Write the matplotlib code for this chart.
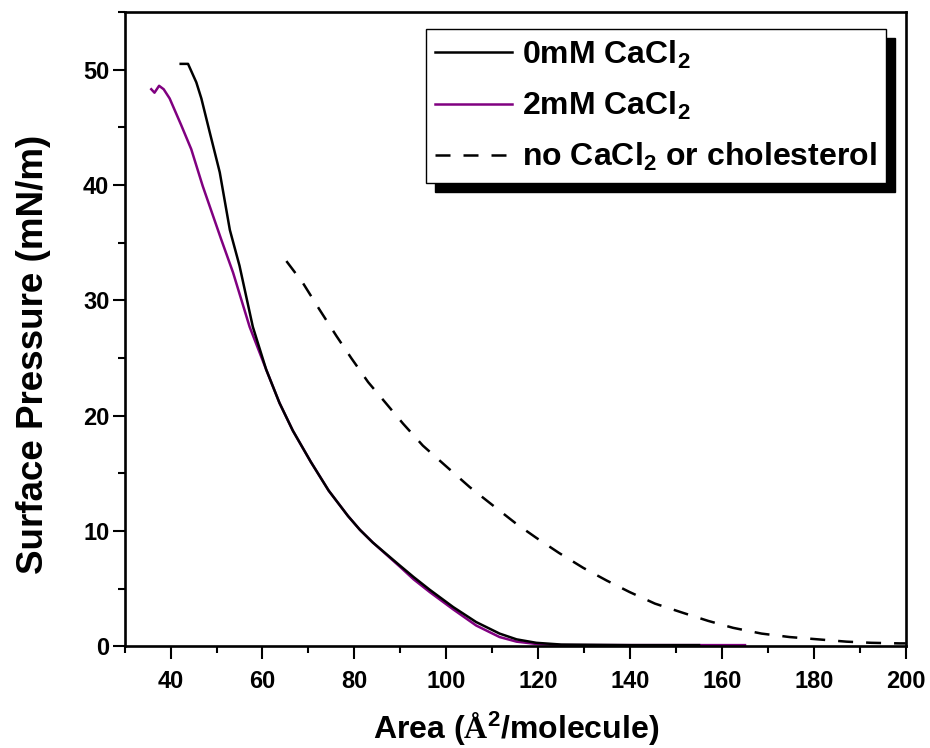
import matplotlib
matplotlib.use("Agg")
import matplotlib.pyplot as plt
from matplotlib.ticker import MultipleLocator

plt.rcParams['font.family'] = ['Liberation Sans', 'DejaVu Sans']
plt.rcParams['font.weight'] = 'bold'
plt.rcParams['mathtext.fontset'] = 'custom'
plt.rcParams['mathtext.rm'] = 'Liberation Sans:bold'
plt.rcParams['mathtext.bf'] = 'Liberation Sans:bold'
plt.rcParams['mathtext.it'] = 'Liberation Sans:bold'
plt.rcParams['mathtext.tt'] = 'Liberation Serif:bold'

# 0 mM CaCl2
area_0mM = [42.2, 43.8, 45.6, 46.7, 48.5, 50.7, 52.9, 55.0, 57.9, 60.8, 63.7, 66.6, 70.5,
            74.4, 78.6, 81.2, 84.0, 89.9, 92.9, 96.4, 101.5, 106.5, 111.6, 115.3, 119.6,
            125, 140, 155]
pres_0mM = [50.5, 50.5, 48.9, 47.5, 44.6, 41.1, 36.1, 33.0, 27.7, 24.0, 21.1, 18.7, 16.0,
            13.5, 11.3, 10.1, 9.0, 7.0, 6.0, 4.9, 3.4, 2.1, 1.1, 0.6, 0.3,
            0.15, 0.1, 0.1]

# 2 mM CaCl2
area_2mM = [35.8, 36.5, 37.5, 38.5, 39.8, 42.3, 44.5, 47.0, 51.0, 53.6, 57.2, 60.8, 63.7,
            66.6, 70.5, 74.4, 78.6, 81.2, 84.0, 89.9, 92.9, 96.4, 101.5, 106.5, 111.6,
            115.3, 119.6, 125, 145, 165]
pres_2mM = [48.3, 48.0, 48.6, 48.3, 47.5, 45.2, 43.1, 39.9, 35.3, 32.4, 27.7, 24.0, 21.1,
            18.7, 16.0, 13.5, 11.3, 10.1, 9.0, 6.9, 5.8, 4.7, 3.2, 1.8, 0.8,
            0.4, 0.2, 0.1, 0.1, 0.1]

# no CaCl2 or cholesterol
area_none = [65.2, 68.8, 72.4, 76.1, 79.3, 83.0, 86.6, 90.6, 94.9, 99.7, 105.1, 110.5,
             115.3, 119.6, 124.5, 129.8, 134.9, 139.9, 145.4, 151.5, 157, 162.4, 168.6,
             174.7, 180.9, 187.1, 192.5, 198.7, 200]
pres_none = [33.4, 31.5, 29.2, 26.9, 25.0, 22.9, 21.2, 19.3, 17.4, 15.7, 13.8, 12.1,
             10.6, 9.4, 8.1, 6.8, 5.7, 4.7, 3.7, 2.9, 2.2, 1.6, 1.1, 0.8, 0.6, 0.4,
             0.3, 0.25, 0.25]

labels = [r'0mM CaCl$_2$', r'2mM CaCl$_2$', r'no CaCl$_2$ or cholesterol']
x_ticks = [40, 60, 80, 100, 120, 140, 160, 180, 200]
y_ticks = [0, 10, 20, 30, 40, 50]

fig = plt.figure(figsize=(9.3, 7.48), dpi=100)
ax = fig.add_axes([0.134, 0.136, 0.840, 0.848])

ax.plot(area_0mM, pres_0mM, color='black', lw=1.8, label=labels[0], zorder=3)
ax.plot(area_2mM, pres_2mM, color='#800080', lw=1.8, label=labels[1], zorder=2)
ax.plot(area_none, pres_none, color='black', lw=1.8, ls=(0, (6, 5.2)), label=labels[2])

ax.set_xlim(30, 200)
ax.set_ylim(0, 55)
ax.set_xticks(x_ticks)
ax.set_yticks(y_ticks)
ax.xaxis.set_minor_locator(MultipleLocator(10))
ax.yaxis.set_minor_locator(MultipleLocator(5))
ax.tick_params(which='major', direction='out', length=9, width=1.5, labelsize=17)
ax.tick_params(which='minor', direction='out', length=5, width=1.5)
ax.tick_params(axis='x', which='major', pad=8)
ax.tick_params(axis='y', which='major', pad=2)
for s in ax.spines.values():
    s.set_linewidth(1.9)

ax.set_xlabel(r'Area ($\mathtt{Å}^2$/molecule)', fontsize=23, fontweight='bold')
ax.set_ylabel('Surface Pressure (mN/m)', fontsize=26.5, fontweight='bold')
ax.xaxis.set_label_coords(0.5006, -0.100)
ax.yaxis.set_label_coords(-0.094, 0.46)

leg = ax.legend(loc='upper right', bbox_to_anchor=(0.9744, 0.973), borderaxespad=0,
                fontsize=23, frameon=True, fancybox=False, framealpha=1,
                edgecolor='black', handlelength=2.4, handletextpad=0.3,
                labelspacing=0.6, borderpad=0.3,
                shadow={'ox': 6.5, 'oy': -6.5, 'color': 'black', 'alpha': 1})
leg.get_frame().set_linewidth(1.0)

fig.savefig('out.png', dpi=100, facecolor='white')
